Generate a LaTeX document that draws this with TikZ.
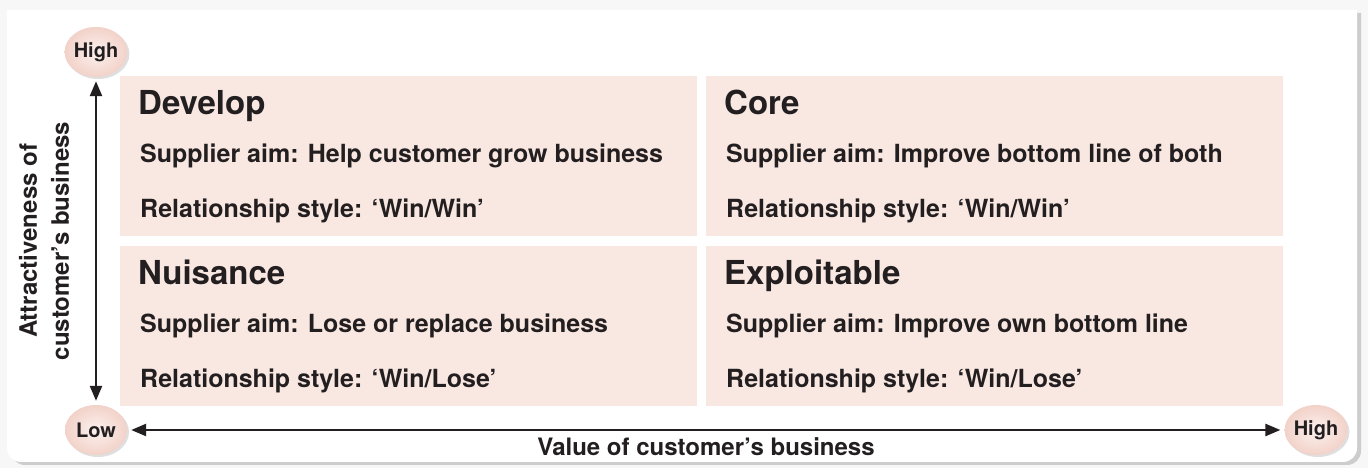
\documentclass[tikz,border=0pt]{standalone}
\usepackage{fontspec}
\setmainfont{TeX Gyre Heros}
\usetikzlibrary{arrows.meta,shadows,shapes.geometric}
\definecolor{quadfill}{HTML}{F9E8E2}
\definecolor{ballin}{HTML}{FCF1EE}
\definecolor{ballout}{HTML}{F2D2C9}
\definecolor{inkdark}{HTML}{231F20}
\tikzset{
  quadrant/.style  = {fill=quadfill, draw=none, anchor=north west,
                      minimum width=577pt, minimum height=160pt},
  heading/.style   = {anchor=base west, inner sep=0pt, text=inkdark,
                      font=\fontsize{33}{33}\selectfont\bfseries},
  aimtext/.style   = {anchor=base west, inner sep=0pt, text=inkdark,
                      font=\fontsize{25}{25}\selectfont\bfseries},
  endpoint/.style  = {ellipse, minimum width=62pt, minimum height=50pt,
                      inner sep=0pt, inner color=ballin, outer color=ballout,
                      drop shadow={shadow xshift=2pt, shadow yshift=-2pt, opacity=0.25},
                      text=inkdark, font=\fontsize{20}{20}\selectfont\bfseries},
  axislabel/.style = {inner sep=0pt, text=inkdark, align=center,
                      font=\fontsize{24}{32}\selectfont\bfseries},
  axisarrow/.style = {{Triangle[length=15pt,width=12pt]}-{Triangle[length=15pt,width=12pt]},
                      line width=2.4pt, draw=inkdark, shorten <=4pt, shorten >=4pt}
}

\begin{document}
\begin{tikzpicture}[x=1pt,y=1pt]
  \fill[black!3] (0,0) rectangle (1368,468);
  \useasboundingbox (0,0) rectangle (1368,468);
  % white panel
  \fill[white, drop shadow={shadow xshift=4pt, shadow yshift=-3pt, opacity=0.35}]
    (7,458) -- (1357,458) -- (1357,20) arc[start angle=0, end angle=-90, radius=14]
    -- (21,6) arc[start angle=270, end angle=180, radius=14] -- cycle;

  \node[quadrant] (develop)   at (120,392) {};
  \node[quadrant] (core)      at (706,392) {};
  \node[quadrant] (nuisance)  at (120,222) {};
  \node[quadrant] (exploit)   at (706,222) {};

  \node[heading] (developT) at ([xshift=18pt,yshift=-39pt]develop.north west) {Develop};
  \node[aimtext] (developA) at ([xshift=20pt,yshift=-87pt]develop.north west) {Supplier aim: Help customer grow business};
  \node[aimtext] (developR) at ([xshift=20pt,yshift=-142pt]develop.north west) {Relationship style: ‘Win/Win’};

  \node[heading] (coreT) at ([xshift=18pt,yshift=-39pt]core.north west) {Core};
  \node[aimtext] (coreA) at ([xshift=20pt,yshift=-87pt]core.north west) {Supplier aim: Improve bottom line of both};
  \node[aimtext] (coreR) at ([xshift=20pt,yshift=-142pt]core.north west) {Relationship style: ‘Win/Win’};

  \node[heading] (nuisanceT) at ([xshift=18pt,yshift=-39pt]nuisance.north west) {Nuisance};
  \node[aimtext] (nuisanceA) at ([xshift=20pt,yshift=-87pt]nuisance.north west) {Supplier aim: Lose or replace business};
  \node[aimtext] (nuisanceR) at ([xshift=20pt,yshift=-142pt]nuisance.north west) {Relationship style: ‘Win/Lose’};

  \node[heading] (exploitT) at ([xshift=18pt,yshift=-39pt]exploit.north west) {Exploitable};
  \node[aimtext] (exploitA) at ([xshift=20pt,yshift=-87pt]exploit.north west) {Supplier aim: Improve own bottom line};
  \node[aimtext] (exploitR) at ([xshift=20pt,yshift=-142pt]exploit.north west) {Relationship style: ‘Win/Lose’};

  % axes
  \node[endpoint] (ytop)   at (96,416)  {High};
  \node[endpoint] (origin) at (96,38)   {Low};
  \node[endpoint] (xright) at (1316,38) {High};
  \draw[axisarrow] (ytop) -- (origin);
  \draw[axisarrow] (origin) -- (xright);

  \node[axislabel, rotate=90] (ylabel) at (44,227) {Attractiveness of\\customer’s business};
  \node[axislabel, anchor=base] (xlabel) at (706,12) {Value of customer’s business};
\end{tikzpicture}
\end{document}
